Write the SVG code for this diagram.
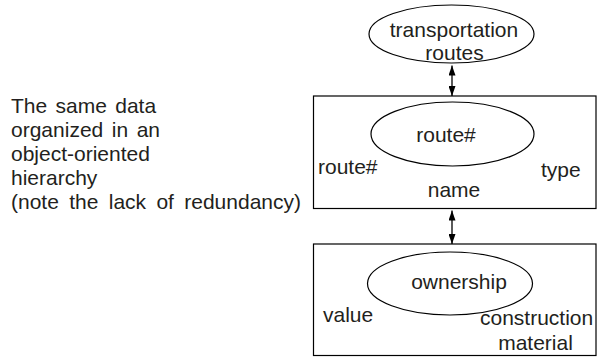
<svg xmlns="http://www.w3.org/2000/svg" width="597" height="361" viewBox="0 0 597 361">
<style>
text{font-family:"Liberation Sans",Arial,Helvetica,sans-serif;font-size:21px;fill:#231f20}
.c{text-anchor:middle}
.shape{fill:#fff;stroke:#000;stroke-width:1.2}
.conn{stroke:#000;stroke-width:1.3;fill:none}
</style>
<defs>
<marker id="ah" viewBox="0 0 10 7" refX="10" refY="3.5" markerWidth="10" markerHeight="7" markerUnits="userSpaceOnUse" orient="auto-start-reverse">
<path d="M0,0 L10,3.5 L0,7 Z" fill="#000"/>
</marker>
</defs>
<rect width="597" height="361" fill="#fff"/>
<g id="caption">
<text x="11" y="112.5" word-spacing="2.5">The same data</text>
<text x="11" y="136.5" word-spacing="2.7">organized in an</text>
<text x="11" y="160.5">object-oriented</text>
<text x="11" y="184.5">hierarchy</text>
<text x="11" y="208.5" word-spacing="4.5">(note the lack of redundancy)</text>
</g>
<g id="transportation-routes">
<ellipse class="shape" cx="451.5" cy="34" rx="82.5" ry="29"/>
<text class="c" x="454" y="36.7">transportation</text>
<text class="c" x="454.5" y="60">routes</text>
</g>
<g id="route-box">
<rect class="shape" x="313.5" y="96" width="282.5" height="112.5"/>
<ellipse class="shape" cx="452.5" cy="134" rx="81.5" ry="32"/>
<text class="c" x="446" y="141.7">route#</text>
<text x="318" y="174">route#</text>
<text x="541" y="176.5">type</text>
<text class="c" x="454" y="196.7">name</text>
</g>
<g id="ownership-box">
<rect class="shape" x="313.5" y="244" width="282.5" height="111.5"/>
<ellipse class="shape" cx="450" cy="283.5" rx="82.5" ry="31.5"/>
<text class="c" x="459" y="289.3">ownership</text>
<text x="323" y="321.7">value</text>
<text x="480" y="325">construction</text>
<text class="c" x="535.5" y="350">material</text>
</g>
<g id="connectors">
<line class="conn" x1="452" y1="65.5" x2="452" y2="96" marker-start="url(#ah)" marker-end="url(#ah)"/>
<line class="conn" x1="452" y1="210.5" x2="452" y2="244" marker-start="url(#ah)" marker-end="url(#ah)"/>
</g>
</svg>
